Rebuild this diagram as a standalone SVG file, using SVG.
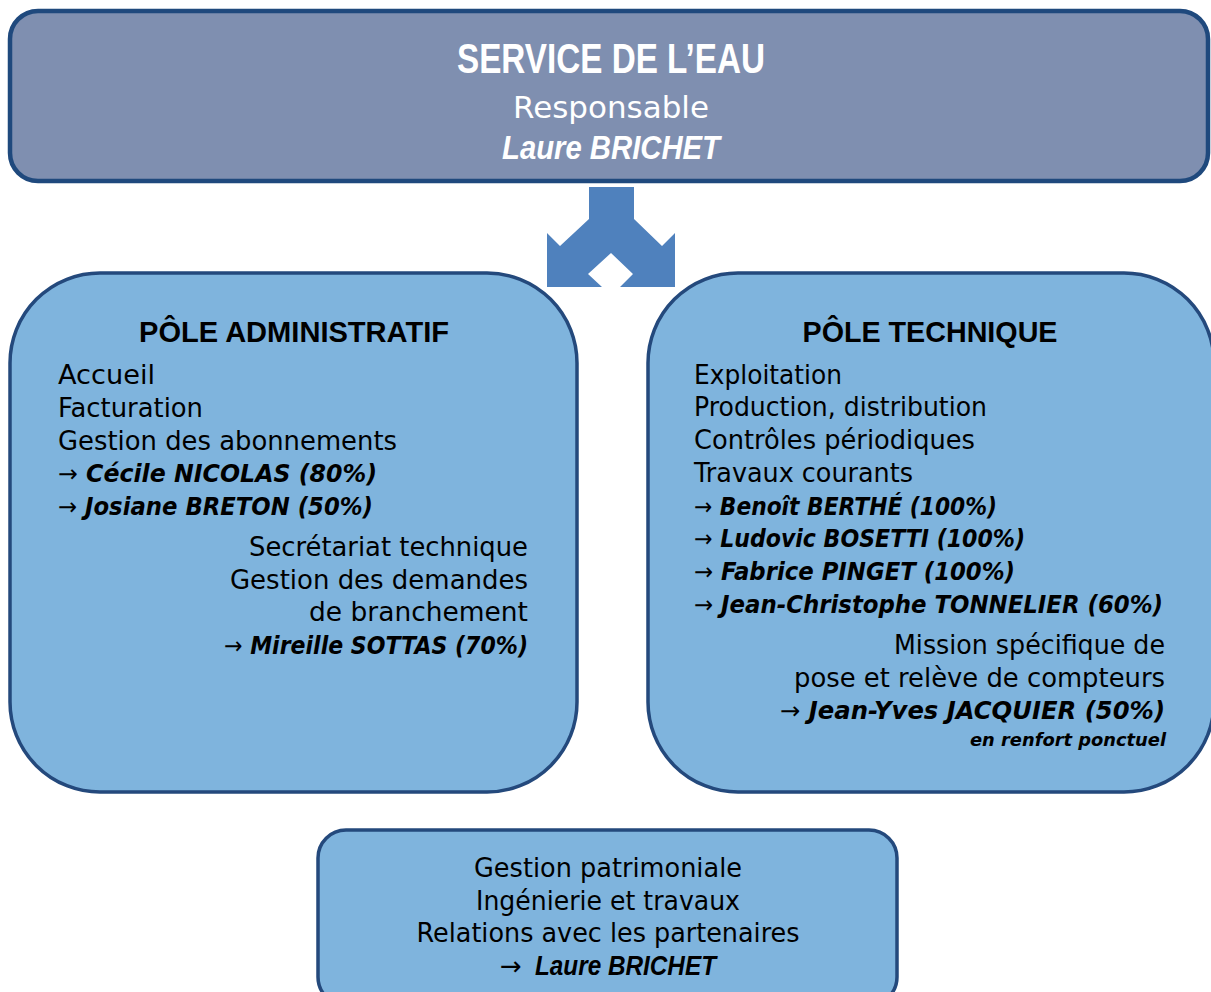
<svg xmlns="http://www.w3.org/2000/svg" width="1211" height="992" viewBox="0 0 1211 992">
<style>
.box{fill:#7fb4dd;stroke:#24497c;stroke-width:3.5}
.top{fill:#7f8fb0;stroke:#1f497d;stroke-width:4.5}
.t{font-family:"DejaVu Sans",sans-serif;font-size:26px;fill:#000}
.b{font-family:"DejaVu Sans",sans-serif;font-size:24px;font-weight:bold;font-style:italic;fill:#000}
.ar{font-weight:normal;font-style:normal}
.h{font-family:"Liberation Sans",Arial,sans-serif;font-size:30px;font-weight:bold;fill:#000}
.w{fill:#fff}
.c{text-anchor:middle}
.e{text-anchor:end}
</style>
<rect width="1211" height="992" fill="#fff"/>
<g id="service">
<rect class="top" x="10" y="11" width="1198" height="170" rx="28"/>
<text class="h w c" x="611" y="73" style="font-size:42px" textLength="308" lengthAdjust="spacingAndGlyphs">SERVICE DE L’EAU</text>
<text class="t w c" x="611" y="118" style="font-size:30px" textLength="196" lengthAdjust="spacingAndGlyphs">Responsable</text>
<text class="h w c" x="611" y="159" style="font-size:33px;font-style:italic" textLength="218" lengthAdjust="spacingAndGlyphs">Laure BRICHET</text>
</g>
<g id="connectors">
<polygon points="589,187 634,187 634,219 662,246 675,233 675,287 620,287 633,274 611,253 588,274 602,287 547,287 547,233 560,246 589,219" fill="#4f81bd"/>
</g>
<g id="pole-admin">
<rect class="box" x="10" y="273" width="567" height="519" rx="90"/>
<text class="h c" x="294" y="342" textLength="310" lengthAdjust="spacingAndGlyphs">PÔLE ADMINISTRATIF</text>
<text class="t" x="58" y="384" textLength="97" lengthAdjust="spacingAndGlyphs">Accueil</text>
<text class="t" x="58" y="417" textLength="145" lengthAdjust="spacingAndGlyphs">Facturation</text>
<text class="t" x="58" y="450" textLength="339" lengthAdjust="spacingAndGlyphs">Gestion des abonnements</text>
<text class="b" x="58" y="482" textLength="319" lengthAdjust="spacingAndGlyphs"><tspan class="ar">→</tspan> Cécile NICOLAS (80%)</text>
<text class="b" x="58" y="515" textLength="315" lengthAdjust="spacingAndGlyphs"><tspan class="ar">→</tspan> Josiane BRETON (50%)</text>
<text class="t e" x="528" y="556" textLength="279" lengthAdjust="spacingAndGlyphs">Secrétariat technique</text>
<text class="t e" x="528" y="589" textLength="298" lengthAdjust="spacingAndGlyphs">Gestion des demandes</text>
<text class="t e" x="528" y="621" textLength="219" lengthAdjust="spacingAndGlyphs">de branchement</text>
<text class="b e" x="528" y="654" textLength="304" lengthAdjust="spacingAndGlyphs"><tspan class="ar">→</tspan> Mireille SOTTAS (70%)</text>
</g>
<g id="pole-technique">
<rect class="box" x="648" y="273" width="566" height="519" rx="90"/>
<text class="h c" x="930" y="342" textLength="255" lengthAdjust="spacingAndGlyphs">PÔLE TECHNIQUE</text>
<text class="t" x="694" y="384" textLength="148" lengthAdjust="spacingAndGlyphs">Exploitation</text>
<text class="t" x="694" y="416" textLength="293" lengthAdjust="spacingAndGlyphs">Production, distribution</text>
<text class="t" x="694" y="449" textLength="281" lengthAdjust="spacingAndGlyphs">Contrôles périodiques</text>
<text class="t" x="694" y="482" textLength="219" lengthAdjust="spacingAndGlyphs">Travaux courants</text>
<text class="b" x="694" y="515" textLength="303" lengthAdjust="spacingAndGlyphs"><tspan class="ar">→</tspan> Benoît BERTHÉ (100%)</text>
<text class="b" x="694" y="547" textLength="331" lengthAdjust="spacingAndGlyphs"><tspan class="ar">→</tspan> Ludovic BOSETTI (100%)</text>
<text class="b" x="694" y="580" textLength="321" lengthAdjust="spacingAndGlyphs"><tspan class="ar">→</tspan> Fabrice PINGET (100%)</text>
<text class="b" x="694" y="613" textLength="469" lengthAdjust="spacingAndGlyphs"><tspan class="ar">→</tspan> Jean-Christophe TONNELIER (60%)</text>
<text class="t e" x="1165" y="654" textLength="271" lengthAdjust="spacingAndGlyphs">Mission spécifique de</text>
<text class="t e" x="1165" y="687" textLength="371" lengthAdjust="spacingAndGlyphs">pose et relève de compteurs</text>
<text class="b e" x="1165" y="719" textLength="385" lengthAdjust="spacingAndGlyphs"><tspan class="ar">→</tspan> Jean-Yves JACQUIER (50%)</text>
<text class="b e" x="1166" y="746" style="font-size:18px" textLength="196" lengthAdjust="spacingAndGlyphs">en renfort ponctuel</text>
</g>
<g id="patrimoine">
<rect class="box" x="318" y="830" width="579" height="175" rx="28"/>
<text class="t c" x="608" y="877" textLength="268" lengthAdjust="spacingAndGlyphs">Gestion patrimoniale</text>
<text class="t c" x="608" y="910" textLength="264" lengthAdjust="spacingAndGlyphs">Ingénierie et travaux</text>
<text class="t c" x="608" y="942" textLength="383" lengthAdjust="spacingAndGlyphs">Relations avec les partenaires</text>
<text class="t" x="500" y="975">→</text>
<text class="h" x="535" y="975" style="font-size:27px;font-style:italic" textLength="181" lengthAdjust="spacingAndGlyphs">Laure BRICHET</text>
</g>
</svg>
